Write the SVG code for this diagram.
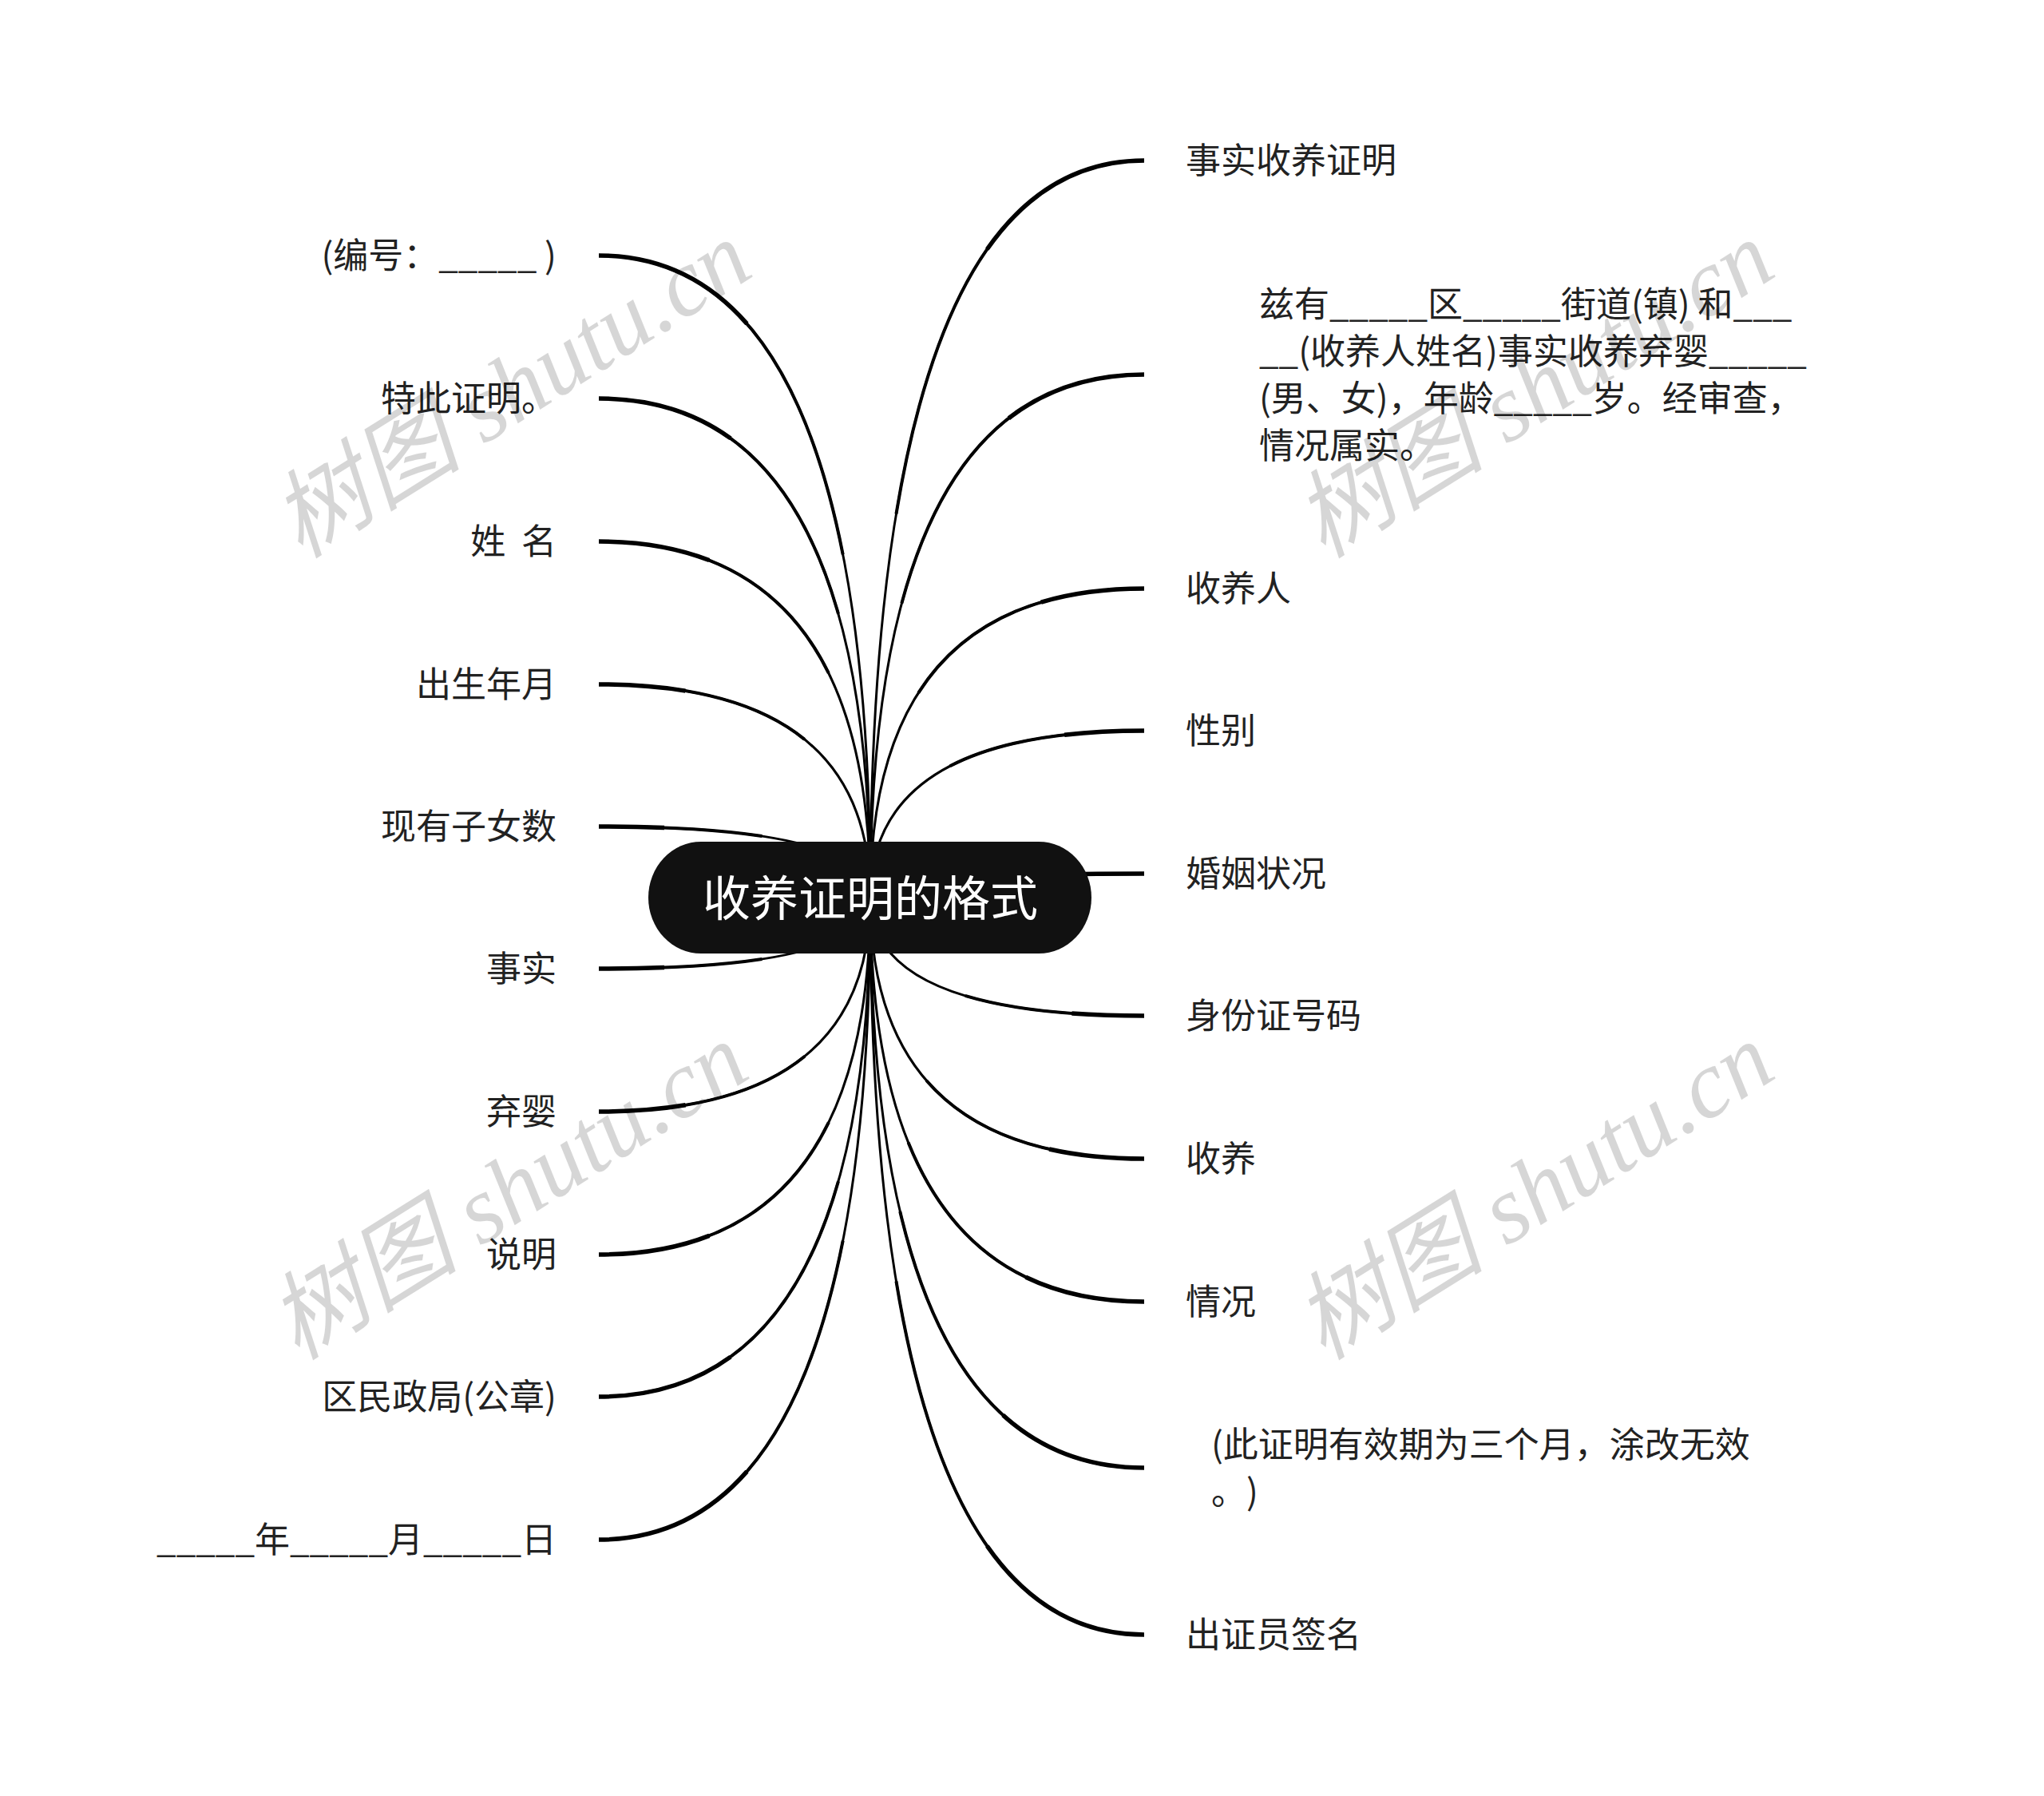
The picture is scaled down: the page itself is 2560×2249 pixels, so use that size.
<svg xmlns="http://www.w3.org/2000/svg" xmlns:xlink="http://www.w3.org/1999/xlink" width="2560" height="2249" viewBox="0 0 2560 2249">
<style>
.lbl{font-family:"Noto Sans CJK SC","Noto Sans",sans-serif;font-size:44px;fill:#222;}
.l{text-anchor:end;}
.title{font-family:"Noto Sans CJK SC","Noto Sans",sans-serif;font-size:60px;fill:#fff;text-anchor:middle;}
.c{fill:none;stroke:#000;}
.w1{stroke-width:3;}
.w2{stroke-width:4;stroke-dasharray:0 45 55;}
.w3{stroke-width:5.5;stroke-dasharray:0 78 22;}
.wm{font-family:"Liberation Serif","Noto Sans CJK SC",serif;font-size:120px;fill:#000;fill-opacity:0.16;font-style:italic;text-anchor:middle;}
</style>
<defs>
<path id="p1" pathLength="100" d="M1090 1124Q1090 320 750 320"/>
<path id="p2" pathLength="100" d="M1090 1124Q1090 499 750 499"/>
<path id="p3" pathLength="100" d="M1090 1124Q1090 678 750 678"/>
<path id="p4" pathLength="100" d="M1090 1124Q1090 857 750 857"/>
<path id="p5" pathLength="100" d="M1090 1124Q1090 1035 750 1035"/>
<path id="p6" pathLength="100" d="M1090 1124Q1090 1213 750 1213"/>
<path id="p7" pathLength="100" d="M1090 1124Q1090 1392 750 1392"/>
<path id="p8" pathLength="100" d="M1090 1124Q1090 1571 750 1571"/>
<path id="p9" pathLength="100" d="M1090 1124Q1090 1749 750 1749"/>
<path id="p10" pathLength="100" d="M1090 1124Q1090 1928 750 1928"/>
<path id="q1" pathLength="100" d="M1090 1124Q1090 201 1433 201"/>
<path id="q2" pathLength="100" d="M1090 1124Q1090 469 1433 469"/>
<path id="q3" pathLength="100" d="M1090 1124Q1090 737 1433 737"/>
<path id="q4" pathLength="100" d="M1090 1124Q1090 915 1433 915"/>
<path id="q5" pathLength="100" d="M1090 1124Q1090 1094 1433 1094"/>
<path id="q6" pathLength="100" d="M1090 1124Q1090 1272 1433 1272"/>
<path id="q7" pathLength="100" d="M1090 1124Q1090 1451 1433 1451"/>
<path id="q8" pathLength="100" d="M1090 1124Q1090 1630 1433 1630"/>
<path id="q9" pathLength="100" d="M1090 1124Q1090 1838 1433 1838"/>
<path id="q10" pathLength="100" d="M1090 1124Q1090 2047 1433 2047"/>
</defs>
<rect width="2560" height="2249" fill="#fff"/>
<g id="connectors">
<use href="#p1" class="c w1"/><use href="#p1" class="c w2"/><use href="#p1" class="c w3"/>
<use href="#p2" class="c w1"/><use href="#p2" class="c w2"/><use href="#p2" class="c w3"/>
<use href="#p3" class="c w1"/><use href="#p3" class="c w2"/><use href="#p3" class="c w3"/>
<use href="#p4" class="c w1"/><use href="#p4" class="c w2"/><use href="#p4" class="c w3"/>
<use href="#p5" class="c w1"/><use href="#p5" class="c w2"/><use href="#p5" class="c w3"/>
<use href="#p6" class="c w1"/><use href="#p6" class="c w2"/><use href="#p6" class="c w3"/>
<use href="#p7" class="c w1"/><use href="#p7" class="c w2"/><use href="#p7" class="c w3"/>
<use href="#p8" class="c w1"/><use href="#p8" class="c w2"/><use href="#p8" class="c w3"/>
<use href="#p9" class="c w1"/><use href="#p9" class="c w2"/><use href="#p9" class="c w3"/>
<use href="#p10" class="c w1"/><use href="#p10" class="c w2"/><use href="#p10" class="c w3"/>
<use href="#q1" class="c w1"/><use href="#q1" class="c w2"/><use href="#q1" class="c w3"/>
<use href="#q2" class="c w1"/><use href="#q2" class="c w2"/><use href="#q2" class="c w3"/>
<use href="#q3" class="c w1"/><use href="#q3" class="c w2"/><use href="#q3" class="c w3"/>
<use href="#q4" class="c w1"/><use href="#q4" class="c w2"/><use href="#q4" class="c w3"/>
<use href="#q5" class="c w1"/><use href="#q5" class="c w2"/><use href="#q5" class="c w3"/>
<use href="#q6" class="c w1"/><use href="#q6" class="c w2"/><use href="#q6" class="c w3"/>
<use href="#q7" class="c w1"/><use href="#q7" class="c w2"/><use href="#q7" class="c w3"/>
<use href="#q8" class="c w1"/><use href="#q8" class="c w2"/><use href="#q8" class="c w3"/>
<use href="#q9" class="c w1"/><use href="#q9" class="c w2"/><use href="#q9" class="c w3"/>
<use href="#q10" class="c w1"/><use href="#q10" class="c w2"/><use href="#q10" class="c w3"/>
</g>
<g id="root">
<rect x="812" y="1054" width="555" height="140" rx="66" ry="70" fill="#111"/>
<text class="title" x="1090" y="1147">收养证明的格式</text>
</g>
<g id="n-left-1"><text class="lbl l" x="697" y="336" xml:space="preserve">(编号：_____ )</text></g>
<g id="n-left-2"><text class="lbl l" x="697" y="515">特此证明。</text></g>
<g id="n-left-3"><text class="lbl l" x="697" y="694" xml:space="preserve">姓  名</text></g>
<g id="n-left-4"><text class="lbl l" x="697" y="873">出生年月</text></g>
<g id="n-left-5"><text class="lbl l" x="697" y="1051">现有子女数</text></g>
<g id="n-left-6"><text class="lbl l" x="697" y="1229">事实</text></g>
<g id="n-left-7"><text class="lbl l" x="697" y="1408">弃婴</text></g>
<g id="n-left-8"><text class="lbl l" x="697" y="1587">说明</text></g>
<g id="n-left-9"><text class="lbl l" x="697" y="1765">区民政局(公章)</text></g>
<g id="n-left-10"><text class="lbl l" x="697" y="1944">_____年_____月_____日</text></g>
<g id="n-right-1"><text class="lbl" x="1485" y="217">事实收养证明</text></g>
<g id="n-right-2"><text class="lbl" xml:space="preserve"><tspan x="1577" y="397">兹有_____区_____街道(镇) 和___</tspan><tspan x="1577" y="456">__(收养人姓名)事实收养弃婴_____</tspan><tspan x="1577" y="515">(男、女)，年龄_____岁。经审查，</tspan><tspan x="1577" y="574">情况属实。</tspan></text></g>
<g id="n-right-3"><text class="lbl" x="1485" y="753">收养人</text></g>
<g id="n-right-4"><text class="lbl" x="1485" y="931">性别</text></g>
<g id="n-right-5"><text class="lbl" x="1485" y="1110">婚姻状况</text></g>
<g id="n-right-6"><text class="lbl" x="1485" y="1288">身份证号码</text></g>
<g id="n-right-7"><text class="lbl" x="1485" y="1467">收养</text></g>
<g id="n-right-8"><text class="lbl" x="1485" y="1646">情况</text></g>
<g id="n-right-9"><text class="lbl"><tspan x="1517" y="1825">(此证明有效期为三个月，涂改无效</tspan><tspan x="1517" y="1884">。</tspan><tspan x="1561" y="1884">)</tspan></text></g>
<g id="n-right-10"><text class="lbl" x="1485" y="2063">出证员签名</text></g>
<g id="watermarks">
<text class="wm" transform="translate(662 522) rotate(-32)">树图 shutu.cn</text>
<text class="wm" transform="translate(1943 522) rotate(-32)">树图 shutu.cn</text>
<text class="wm" transform="translate(658 1526) rotate(-32)">树图 shutu.cn</text>
<text class="wm" transform="translate(1943 1526) rotate(-32)">树图 shutu.cn</text>
</g>
</svg>
